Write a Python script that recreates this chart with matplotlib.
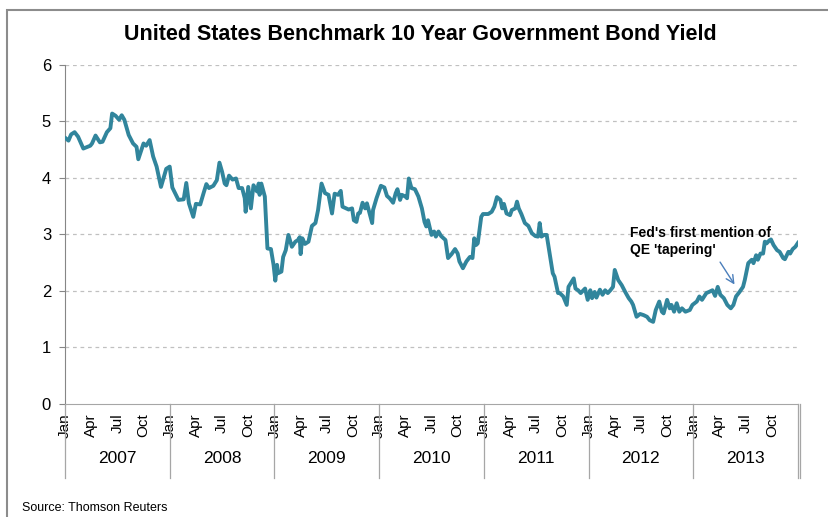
import matplotlib
matplotlib.use("Agg")
import matplotlib.pyplot as plt
from matplotlib.transforms import blended_transform_factory
from matplotlib.patches import Rectangle

plt.rcParams['font.family'] = ['Liberation Sans', 'DejaVu Sans']

# weekly-ish readings: (months since Jan 2007, yield %)
y2007 = [(0.1, 4.70), (0.4, 4.66), (0.7, 4.77), (1.1, 4.81), (1.5, 4.73), (2.1, 4.52), (2.9, 4.57),
         (3.1, 4.61), (3.5, 4.75), (4.0, 4.63), (4.3, 4.64), (4.8, 4.81), (5.2, 4.88), (5.4, 5.14),
         (5.8, 5.10), (6.2, 5.03), (6.5, 5.11), (6.8, 5.03), (7.3, 4.76), (7.8, 4.61), (8.2, 4.55),
         (8.4, 4.33), (9.0, 4.61), (9.3, 4.57), (9.7, 4.67), (10.1, 4.38), (10.5, 4.20), (11.0, 3.84),
         (11.6, 4.16), (12.0, 4.20)]
y2008 = [(12.3, 3.83), (13.0, 3.61), (13.6, 3.62), (13.9, 3.91), (14.2, 3.55), (14.7, 3.31), (15.0, 3.54),
         (15.5, 3.53), (15.9, 3.74), (16.2, 3.89), (16.5, 3.82), (17.0, 3.86), (17.4, 3.96), (17.7, 4.27),
         (18.0, 4.11), (18.3, 3.90), (18.5, 3.87), (18.8, 4.04), (19.2, 3.97), (19.6, 3.99), (19.9, 3.82),
         (20.3, 3.82), (20.6, 3.64), (20.7, 3.40), (21.0, 3.84), (21.3, 3.46), (21.6, 3.87), (22.0, 3.76),
         (22.2, 3.90), (22.3, 3.70), (22.5, 3.90), (22.9, 3.67), (23.2, 2.75), (23.6, 2.74), (23.9, 2.46)]
y2009 = [(24.1, 2.18), (24.3, 2.46), (24.4, 2.31), (24.8, 2.34), (25.0, 2.60), (25.3, 2.72), (25.6, 2.99),
         (26.0, 2.78), (26.4, 2.87), (26.7, 2.90), (26.9, 2.95), (27.0, 2.65), (27.2, 2.93), (27.5, 2.83),
         (27.9, 2.87), (28.3, 3.15), (28.7, 3.20), (29.0, 3.43), (29.4, 3.90), (29.8, 3.73), (30.2, 3.70),
         (30.6, 3.37), (30.9, 3.72), (31.3, 3.70), (31.6, 3.77), (31.8, 3.49), (32.5, 3.44), (32.9, 3.46),
         (33.1, 3.25), (33.4, 3.22), (33.6, 3.37), (33.8, 3.38), (34.1, 3.56), (34.4, 3.46), (34.6, 3.55),
         (35.2, 3.20), (35.3, 3.43), (35.7, 3.64)]
y2010 = [(36.2, 3.86), (36.6, 3.83), (36.9, 3.68), (37.2, 3.64), (37.6, 3.56), (37.9, 3.73), (38.1, 3.80),
         (38.4, 3.61), (38.6, 3.70), (39.0, 3.67), (39.2, 3.64), (39.4, 3.99), (39.7, 3.82), (40.1, 3.80),
         (40.5, 3.67), (40.9, 3.46), (41.2, 3.22), (41.4, 3.14), (41.6, 3.25), (42.0, 2.99), (42.3, 3.05),
         (42.5, 2.96), (42.8, 3.05), (43.1, 2.97), (43.6, 2.90), (43.9, 2.58), (44.3, 2.65), (44.7, 2.74),
         (45.0, 2.66), (45.2, 2.52), (45.6, 2.40), (46.0, 2.52), (46.4, 2.60), (46.7, 2.58), (46.9, 2.93),
         (47.1, 2.81), (47.3, 2.84), (47.7, 3.31), (47.9, 3.36)]
y2011 = [(48.5, 3.36), (48.9, 3.40), (49.2, 3.49), (49.5, 3.66), (49.9, 3.61), (50.1, 3.46), (50.3, 3.54),
         (50.6, 3.37), (51.0, 3.34), (51.2, 3.43), (51.6, 3.46), (51.8, 3.58), (52.0, 3.46), (52.3, 3.36),
         (52.7, 3.20), (53.1, 3.15), (53.5, 3.02), (53.9, 2.97), (54.2, 2.96), (54.4, 3.20), (54.6, 2.96),
         (54.9, 2.99), (55.2, 2.99), (55.6, 2.60), (55.9, 2.31), (56.1, 2.25), (56.5, 1.96), (56.7, 1.96),
         (57.1, 1.90), (57.5, 1.75), (57.7, 2.07), (58.3, 2.22), (58.5, 2.04), (58.8, 2.01), (59.1, 1.96),
         (59.6, 2.04), (59.9, 1.84)]
y2012 = [(60.2, 2.01), (60.4, 1.87), (60.7, 1.98), (60.9, 1.88), (61.3, 2.02), (61.6, 1.93), (61.9, 2.01),
         (62.2, 1.96), (62.5, 2.01), (62.8, 2.07), (63.0, 2.37), (63.4, 2.19), (63.8, 2.10), (64.2, 1.98),
         (64.6, 1.87), (64.9, 1.81), (65.1, 1.75), (65.5, 1.54), (65.9, 1.59), (66.3, 1.57), (66.7, 1.54),
         (67.0, 1.48), (67.4, 1.45), (67.7, 1.66), (68.1, 1.81), (68.4, 1.63), (68.6, 1.60), (69.0, 1.84),
         (69.3, 1.69), (69.5, 1.75), (69.8, 1.63), (70.1, 1.78), (70.4, 1.63), (70.7, 1.69), (71.1, 1.63),
         (71.6, 1.66), (71.9, 1.75)]
y2013 = [(72.4, 1.81), (72.7, 1.90), (73.0, 1.84), (73.5, 1.96), (73.8, 1.98), (74.2, 2.01), (74.5, 1.91),
         (74.8, 2.07), (75.1, 1.93), (75.5, 1.87), (75.9, 1.75), (76.3, 1.69), (76.6, 1.75), (76.9, 1.90),
         (77.3, 1.98), (77.7, 2.07), (77.9, 2.19), (78.3, 2.49), (78.7, 2.55), (78.9, 2.49), (79.2, 2.63),
         (79.4, 2.55), (79.7, 2.66), (80.0, 2.66), (80.2, 2.87), (80.4, 2.84), (80.7, 2.89), (80.9, 2.91),
         (81.2, 2.81), (81.6, 2.72), (81.9, 2.69), (82.3, 2.58), (82.5, 2.56), (82.9, 2.69), (83.1, 2.66),
         (83.4, 2.74), (83.7, 2.78), (84.0, 2.85)]

years = ["2007", "2008", "2009", "2010", "2011", "2012", "2013"]
quarter_labels = ["Jan", "Apr", "Jul", "Oct"]
y_ticks = [0, 1, 2, 3, 4, 5, 6]

note_text = "Fed's first mention of\nQE 'tapering'"
note_pos = (64.75, 3.14)
arrow_from = (74.9, 2.55)
arrow_to = (76.9, 2.07)

series = y2007 + y2008 + y2009 + y2010 + y2011 + y2012 + y2013
months = [p[0] for p in series]
yields = [p[1] for p in series]

fig = plt.figure(figsize=(8.29, 5.17), dpi=100)
ax = fig.add_axes([0.0784, 0.2191, 0.8842, 0.6552])

# outer chart frame
fig.patches.append(Rectangle((7 / 829, -0.1), 1.2, 1 - 10 / 517 + 0.1, transform=fig.transFigure,
                             fill=False, edgecolor='#8c8c8c', linewidth=1.5))

ax.plot(months, yields, color='#31859C', linewidth=2.8, solid_joinstyle='round', zorder=3)

ax.set_xlim(0, 84)
ax.set_ylim(0, 6)
ax.set_yticks(y_ticks)
ax.tick_params(axis='y', labelsize=12, length=4, color='#868686', pad=6)
for v in y_ticks[1:]:
    ax.axhline(v, color='#c0c0c0', linewidth=0.9, linestyle=(0, (3, 3)), zorder=1)

ax.set_xticks(range(0, 84, 3))
ax.set_xticklabels(quarter_labels * len(years), rotation=90, fontsize=11)
ax.tick_params(axis='x', length=0, pad=7)

for s in ['top', 'right']:
    ax.spines[s].set_visible(False)
ax.spines['left'].set_color('#868686')
ax.spines['bottom'].set_color('#a6a6a6')

trans = blended_transform_factory(ax.transData, ax.transAxes)
for i, yr in enumerate(years):
    ax.text(12 * i + 6, -0.162, yr, transform=trans, ha='center', va='center', fontsize=12.5)
for i in range(len(years) + 1):
    ax.plot([12 * i, 12 * i], [0, -0.22], transform=trans, color='#a6a6a6', linewidth=0.9, clip_on=False)
ax.plot([84.2, 84.2], [0, -0.22], transform=trans, color='#a6a6a6', linewidth=0.9, clip_on=False)

ax.text(note_pos[0], note_pos[1], note_text, fontsize=10, fontweight='bold', va='top', ha='left')
ax.annotate('', xy=arrow_to, xytext=arrow_from,
            arrowprops=dict(arrowstyle='->', color='#4a7ebb', linewidth=1.0, mutation_scale=14))

fig.text(420 / 829, 1 - 35 / 517, "United States Benchmark 10 Year Government Bond Yield",
         ha='center', va='center', fontsize=15.5, fontweight='bold')
fig.text(22 / 829, 1 - 508 / 517, "Source: Thomson Reuters", ha='left', va='center', fontsize=9)

fig.savefig("out.png", dpi=100)
